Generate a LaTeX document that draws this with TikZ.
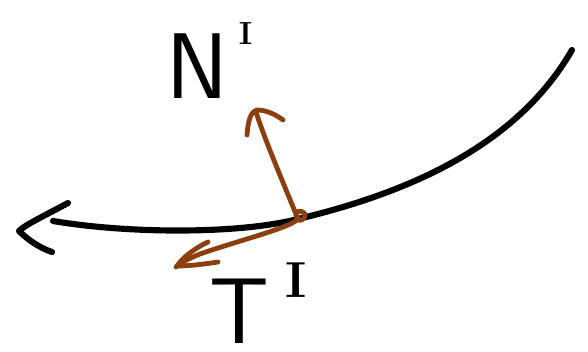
\documentclass[tikz,border=0pt]{standalone}
\usepackage{fontspec}
\begin{document}
\begin{tikzpicture}[x=0.75pt,y=-0.75pt,
  ink/.style={line width=4.6pt,line cap=round,line join=round,black},
  brown ink/.style={line width=3.6pt,line cap=round,line join=round,draw=sketchbrown},
  lbl/.style={inner sep=0pt,anchor=base west,font=\fontsize{70}{70}\selectfont\sffamily}]
\definecolor{sketchbrown}{RGB}{139,62,14}
\useasboundingbox (0,0) rectangle (588,352);
% main curve
\coordinate (cL) at (53,221);
\coordinate (cP) at (298,219);
\coordinate (cR) at (572,50);
\draw[ink] (cL) .. controls (130,234) and (240,234) .. (cP)
  .. controls (420,190) and (520,140) .. (cR);
% open arrow head at the left end
\coordinate (hT) at (68,203);
\coordinate (hTip) at (19,231);
\coordinate (hB) at (52,252);
\draw[ink] (hT) .. controls (40,218) and (25,225) .. (hTip) .. controls (28,240) and (40,248) .. (hB);
% brown point
\draw[brown ink] (cP) .. controls (292,212) and (300,208) .. (305,214) .. controls (306,220) and (298,222) .. (cP);
% normal arrow
\coordinate (nTip) at (256,112);
\draw[brown ink] (cP) .. controls (280,175) and (265,140) .. (nTip);
\draw[brown ink] (247,135) .. controls (248,122) and (250,112) .. (257,110) .. controls (266,110) and (275,114) .. (283,120);
% tangent arrow
\coordinate (tTip) at (176,267);
\draw[brown ink] (cP) .. controls (290,228) and (240,240) .. (200,254) .. controls (190,258) and (182,262) .. (tTip);
\draw[brown ink] (208,242) .. controls (195,248) and (182,258) .. (177,266) .. controls (190,266) and (205,264) .. (218,262);
% labels
\node[lbl] (N) at (166,99) {N\hspace{8pt}\raisebox{41pt}{\fontsize{24}{24}\selectfont\rmfamily\bfseries I}};
\node[lbl] (T) at (209,343) {T\hspace{12pt}\raisebox{34pt}{\fontsize{38}{38}\selectfont\rmfamily\bfseries I}};
\end{tikzpicture}
\end{document}
